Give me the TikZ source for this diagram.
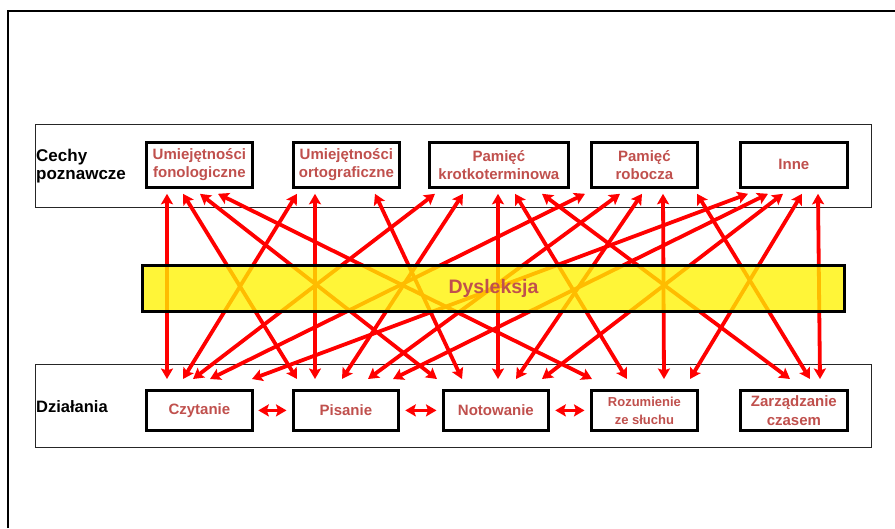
\documentclass[tikz,border=0pt]{standalone}
\usepackage{fontspec}
\setmainfont{Liberation Sans}
\usetikzlibrary{arrows.meta}
\definecolor{txtred}{RGB}{192,80,77}
\newcommand\lk[4]{\draw[link] ([xshift=#2pt,yshift=-4.5pt]#1.south west) -- ([xshift=#4pt,yshift=9.5pt]#3.north west);}
\begin{document}
\begin{tikzpicture}[x=1pt,y=-1pt,
  box/.style={draw=black, line width=3.8pt, fill=white, text=txtred, font=\bfseries\fontsize{15}{18}\selectfont, align=center, inner sep=0pt, anchor=north west},
  panel/.style={draw=black!85, line width=1pt, inner sep=0pt, anchor=north west},
  link/.style={draw=red, line width=3.8pt, {Stealth[length=10.5pt,width=12pt,inset=2pt]}-{Stealth[length=10.5pt,width=12pt,inset=2pt]}},
  lbl/.style={font=\bfseries\fontsize{17}{18}\selectfont, align=left, anchor=west, inner sep=0pt, text=black}
]
\useasboundingbox (0,0) rectangle (895,528);
% frame
\draw[line width=2pt] (8,528) -- (8,11) -- (895,11);
% panels
\node[panel, minimum width=836, minimum height=83] (ptop) at (34.5,123.5) {};
\node[panel, minimum width=836, minimum height=83] (pbot) at (34.5,363.5) {};
\node[lbl] (lcech) at (36,166) {Cechy\\poznawcze};
\node[lbl, font=\bfseries\fontsize{16.5}{18}\selectfont] (ldzial) at (36,407) {Działania};
% top boxes
\node[box, minimum width=106, minimum height=45] (t1) at (144.5,140.5) {Umiejętności\\fonologiczne};
\node[box, minimum width=106, minimum height=45] (t2) at (291.5,140.5) {Umiejętności\\ortograficzne};
\node[box, minimum width=139, minimum height=45] (t3) at (427.5,140.5) {Pamięć\\krotkoterminowa};
\node[box, minimum width=106, minimum height=45] (t4) at (589.5,140.5) {Pamięć\\robocza};
\node[box, minimum width=107, minimum height=45] (t5) at (738.5,140.5) {Inne};
% bottom boxes
\node[box, minimum width=106, minimum height=40] (b1) at (144.5,388.5) {Czytanie};
\node[box, minimum width=105, minimum height=40] (b2) at (291.5,388.5) {Pisanie};
\node[box, minimum width=105, minimum height=40] (b3) at (441.5,388.5) {Notowanie};
\node[box, minimum width=106, minimum height=40, font=\bfseries\fontsize{13}{18}\selectfont] (b4) at (589.5,388.5) {Rozumienie\\ze słuchu};
\node[box, minimum width=107, minimum height=40, font=\bfseries\fontsize{15}{18.5}\selectfont] (b5) at (738.5,388.5) {Zarządzanie\\czasem};
% links from top 1
\lk{t1}{22.5}{b1}{22.5}
\lk{t1}{38.5}{b2}{5.5}
\lk{t1}{55.5}{b3}{-4.5}
\lk{t1}{73.5}{b4}{2.5}
% top 2
\lk{t2}{5.5}{b1}{38.5}
\lk{t2}{23.5}{b2}{23.5}
\lk{t2}{83.5}{b3}{20.5}
% top 3
\lk{t3}{7.5}{b1}{48.5}
\lk{t3}{35.5}{b2}{50.5}
\lk{t3}{70.5}{b3}{56.5}
\lk{t3}{87.5}{b4}{37.5}
\lk{t3}{114.5}{b5}{51.5}
% top 4
\lk{t4}{-4.5}{b1}{65.5}
\lk{t4}{30.5}{b2}{76.5}
\lk{t4}{52.5}{b3}{74.5}
\lk{t4}{73.5}{b4}{74.5}
\lk{t4}{107.5}{b5}{71.5}
% top 5
\lk{t5}{9.5}{b1}{107.5}
\lk{t5}{29.5}{b2}{101.5}
\lk{t5}{44.5}{b3}{100.5}
\lk{t5}{63.5}{b4}{100.5}
\lk{t5}{79.5}{b5}{81.5}
% horizontal links
\draw[link] ([xshift=4pt]b1.east) -- ([xshift=-5pt]b2.west);
\draw[link] ([xshift=5pt]b2.east) -- ([xshift=-5pt]b3.west);
\draw[link] ([xshift=5pt]b3.east) -- ([xshift=-5pt]b4.west);
% dyslexia band
\node[draw=black, line width=3.5pt, fill=yellow, fill opacity=0.78, text opacity=1, text=txtred, minimum width=702, minimum height=46, inner sep=0pt, font=\bfseries\fontsize{19.5}{22}\selectfont] (dys) at (493.5,288.5) {Dysleksja};
\end{tikzpicture}
\end{document}
